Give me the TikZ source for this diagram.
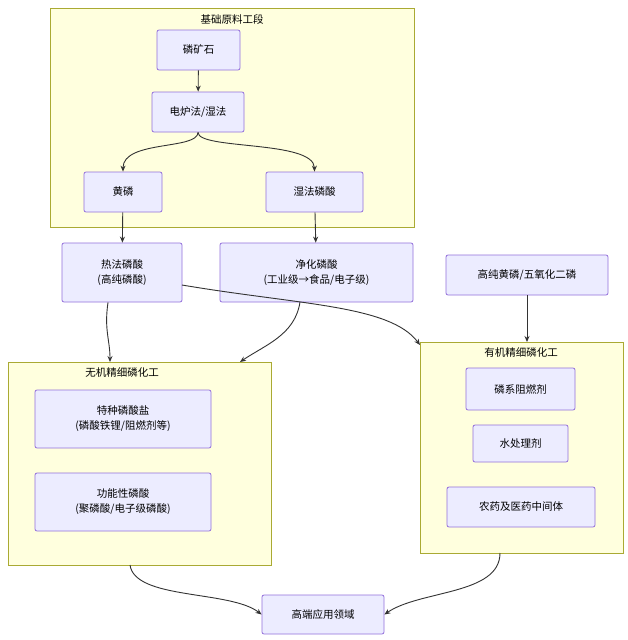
\documentclass[tikz,border=0pt]{standalone}
\usepackage{fontspec}
\setmainfont{Noto Sans CJK SC}
\usetikzlibrary{arrows.meta}
\definecolor{nfill}{HTML}{ECECFF}
\definecolor{nbord}{HTML}{9370DB}
\definecolor{cfill}{HTML}{FFFFDE}
\definecolor{cbord}{HTML}{AAAA33}
\definecolor{edge}{HTML}{333333}
\begin{document}
\begin{tikzpicture}[x=1pt,y=-1pt,font=\fontsize{10.5}{15}\selectfont,
  nd/.style={draw=nbord,fill=nfill,rounded corners=2pt,line width=0.8pt,align=center,inner sep=0pt},
  cl/.style={draw=cbord,fill=cfill,line width=0.8pt},
  ar/.style={draw=edge,line width=0.9pt,-{Stealth[length=6pt,width=5pt]}}]
\useasboundingbox[fill=white] (0,0) rectangle (627,640);
% clusters
\draw[cl] (50,8) rectangle (414,227);
\node at (232,19) {基础原料工段};
\draw[cl] (8,362) rectangle (271,565);
\node at (122,373) {无机精细磷化工};
\draw[cl] (420,342) rectangle (623,553);
\node at (521,353) {有机精细磷化工};
\coordinate (cw) at (110,362);
\coordinate (cw2) at (240,362);
\coordinate (ce) at (420,345);
\coordinate (ce2) at (527,342);
\coordinate (cwb) at (130,565);
\coordinate (ceb) at (500,553);
% nodes
\node[nd,minimum width=83,minimum height=40] (a) at (198.5,50) {磷矿石};
\node[nd,minimum width=92,minimum height=40] (b) at (198,112) {电炉法/湿法};
\node[nd,minimum width=78,minimum height=40] (c) at (123,192) {黄磷};
\node[nd,minimum width=97,minimum height=40] (d) at (314.5,192) {湿法磷酸};
\node[nd,minimum width=120,minimum height=59] (e) at (122,272.5) {热法磷酸\\(高纯磷酸)};
\node[nd,minimum width=193,minimum height=59] (f) at (316.5,272.5) {净化磷酸\\(工业级→食品/电子级)};
\node[nd,minimum width=162,minimum height=40] (g) at (527,275) {高纯黄磷/五氧化二磷};
\node[nd,minimum width=176,minimum height=58] (h) at (123,419) {特种磷酸盐\\(磷酸铁锂/阻燃剂等)};
\node[nd,minimum width=176,minimum height=58] (i) at (123,502) {功能性磷酸\\(聚磷酸/电子级磷酸)};
\node[nd,minimum width=109,minimum height=42] (j) at (520.5,389) {磷系阻燃剂};
\node[nd,minimum width=95,minimum height=37] (k) at (520.5,443.5) {水处理剂};
\node[nd,minimum width=148,minimum height=40] (l) at (521,507) {农药及医药中间体};
\node[nd,minimum width=122,minimum height=39] (m) at (323,614.5) {高端应用领域};
% edges
\draw[ar] (a) -- (b);
\draw[ar] (b.south) .. controls (198,150) and (123,140) .. (c.north);
\draw[ar] (b.south) .. controls (198,150) and (314,140) .. (d.north);
\draw[ar] (c) -- (e);
\draw[ar] (d) -- (f);
\draw[ar] (e.south -| 108,0) .. controls (104,330) and (110,340) .. (cw);
\draw[ar] (300,302) .. controls (295,335) and (265,345) .. (cw2);
\draw[ar] (182,285) .. controls (300,305) and (390,305) .. (ce);
\draw[ar] (g) -- (ce2);
\draw[ar] (cwb) .. controls (135,600) and (230,590) .. (m.west);
\draw[ar] (ceb) .. controls (500,595) and (420,590) .. (m.east);
\end{tikzpicture}
\end{document}
